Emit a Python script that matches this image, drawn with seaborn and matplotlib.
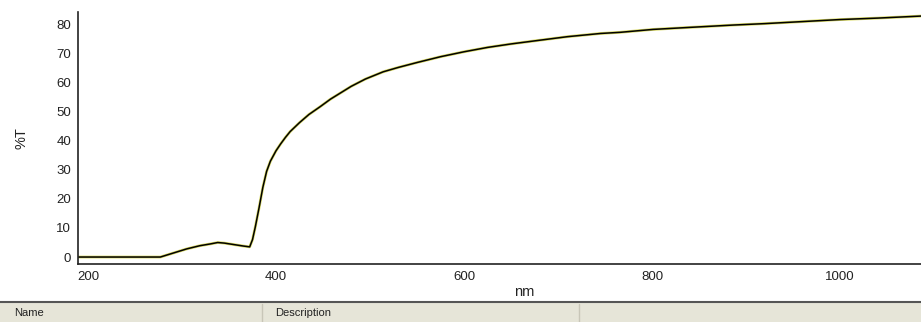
import numpy as np
import pandas as pd
import matplotlib.pyplot as plt
import seaborn as sns
from matplotlib.patches import Rectangle

# Spectrum (wavelength nm vs %T)
wavelength = [190, 220, 250, 270, 277, 285, 295, 305, 319, 330, 338, 345, 355, 365, 372,
              375, 378, 382, 386, 390, 394, 400, 405, 410, 415, 425, 435, 447, 458, 468, 480,
              495, 514, 530, 550, 575, 600, 625, 650, 681, 710, 745, 766, 801, 840,
              886, 920, 960, 1000, 1040, 1086]
transmittance = [0.0, 0.0, 0.0, 0.0, 0.0, 0.8, 1.8, 2.8, 3.9, 4.5, 5.0, 4.8, 4.3, 3.8, 3.5,
                 6.0, 10.4, 17.0, 24.0, 29.5, 33.0, 36.6, 39.0, 41.2, 43.2, 46.3, 49.1, 51.8, 54.4, 56.4, 58.8,
                 61.3, 63.8, 65.3, 67.0, 69.0, 70.7, 72.2, 73.4, 74.7, 75.9, 77.0, 77.4, 78.4, 79.1,
                 79.9, 80.4, 81.1, 81.8, 82.3, 83.0]

x_ticks = [200, 400, 600, 800, 1000]
y_ticks = [0, 10, 20, 30, 40, 50, 60, 70, 80]

df = pd.DataFrame({'nm': wavelength, 'T': transmittance})

sns.set_style('white')
plt.rcParams['font.family'] = ['Liberation Sans', 'DejaVu Sans']

W, H = 921, 322
fig = plt.figure(figsize=(W / 100, H / 100), dpi=100)
ax = fig.add_axes([78 / W, (H - 264) / H, (W - 78) / W, (264 - 12) / H])

# faint yellow trace under the black one, like the original
sns.lineplot(data=df, x='nm', y='T', ax=ax, color='#d8d860', linewidth=2.0)
sns.lineplot(data=df, x='nm', y='T', ax=ax, color='black', linewidth=1.1)

ax.set_xlim(189.4, 1086)
ax.set_ylim(-2.4, 84.4)
ax.set_xticks(x_ticks)
ax.set_yticks(y_ticks)
ax.tick_params(axis='both', direction='out', length=4, width=1, colors='#333333',
               labelsize=9.5, labelcolor='#222222', pad=1)
ax.spines['top'].set_visible(False)
ax.spines['right'].set_visible(False)
for s in ['left', 'bottom']:
    ax.spines[s].set_color('#222222')
    ax.spines[s].set_linewidth(1.2)

ax.set_xlabel('nm', fontsize=10.5, color='#222222')
ax.set_ylabel('%T', fontsize=10.5, color='#222222')
ax.xaxis.set_label_coords((524 - 78) / (W - 78), -(285 - 264) / (264 - 12))
ax.yaxis.set_label_coords(-(78 - 29) / (W - 78), 0.5)

# table header strip below the plot
fig.patches.append(Rectangle((0, 0), 1, (H - 302) / H, transform=fig.transFigure,
                             facecolor='#e6e5d8', edgecolor='none', zorder=0))
fig.lines.append(plt.Line2D([0, 1], [(H - 301.5) / H] * 2, transform=fig.transFigure,
                            color='#555555', linewidth=1.5))
for xd in [262, 579]:
    fig.lines.append(plt.Line2D([xd / W] * 2, [0, (H - 304) / H], transform=fig.transFigure,
                                color='#c8c6b8', linewidth=1))
fig.text(14 / W, (H - 313) / H, 'Name', fontsize=8, va='center', color='#222222')
fig.text(275 / W, (H - 313) / H, 'Description', fontsize=8, va='center', color='#222222')

fig.savefig('out.png', dpi=100)
